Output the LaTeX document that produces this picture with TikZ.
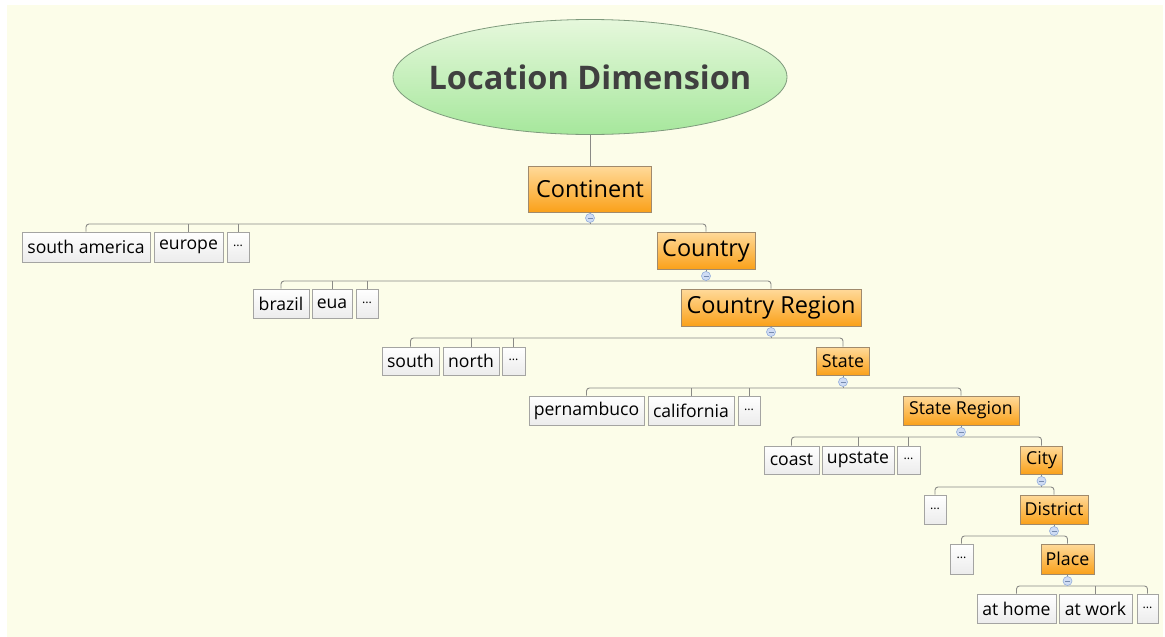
\documentclass[tikz,border=0pt]{standalone}
\usepackage{fontspec}
\setmainfont{Open Sans}
\usetikzlibrary{shapes.geometric}

\definecolor{bgcream}{HTML}{FCFDE9}
\definecolor{linegray}{HTML}{8A8A86}
\definecolor{orangetop}{HTML}{FFDA9A}
\definecolor{orangebot}{HTML}{FAA11A}
\definecolor{orangeedge}{HTML}{A08A6C}
\definecolor{leafedge}{HTML}{A4A4A2}
\definecolor{leafbot}{HTML}{ECECEC}
\definecolor{greentop}{HTML}{E6F8DC}
\definecolor{greenbot}{HTML}{A6E79C}
\definecolor{greenedge}{HTML}{7E9A7C}
\definecolor{titletext}{HTML}{404040}
\definecolor{knobfill}{HTML}{CFDCF4}
\definecolor{knobedge}{HTML}{93AEDC}

\newcommand{\fsz}[1]{\fontsize{#1}{#1}\selectfont}
\newcommand{\more}{\raisebox{0.12em}{\fsz{12.5}…}}

\tikzset{
  conn/.style={draw=linegray, line width=0.9pt},
  bar/.style={conn, rounded corners=3pt},
  level/.style={draw=orangeedge, line width=0.8pt, top color=orangetop,
    bottom color=orangebot, inner sep=0pt, text=black},
  leaf/.style={draw=leafedge, line width=0.8pt, top color=white,
    bottom color=leafbot, inner sep=0pt, text=black, font=\fsz{17.6},
    minimum height=29},
  knob/.style={circle, draw=knobedge, fill=knobfill, line width=0.6pt,
    minimum size=9, inner sep=0pt,
    path picture={\draw[knobedge!80!black, line width=0.7pt]
      ([xshift=2pt]path picture bounding box.west) --
      ([xshift=-2pt]path picture bounding box.east);}},
}

\begin{document}
\begin{tikzpicture}[x=1pt, y=-1pt]
  \useasboundingbox (0,0) rectangle (1165,637);
  \fill[bgcream] (7,5) rectangle (1163,637);

  % root: the ellipse is sized on its own, the title is set on top of it
  \node[ellipse, draw=greenedge, line width=0.8pt, top color=greentop,
    bottom color=greenbot, minimum width=394, minimum height=115,
    inner sep=0pt] (root) at (590,77) {};
  \node[text=titletext, font=\fsz{32.5}\bfseries, inner sep=0pt]
    (title) at (root.center) {Location Dimension};

  % hierarchy levels
  \node[level, minimum width=123, minimum height=46, font=\fsz{23.5}] (continent) at (590,189) {Continent};
  \node[level, minimum width=98, minimum height=37, font=\fsz{23.5}] (country) at (706,250.5) {Country};
  \node[level, minimum width=180, minimum height=37, font=\fsz{23.5}] (cregion) at (771,307.5) {Country Region};
  \node[level, minimum width=53, minimum height=28, font=\fsz{17.8}] (state) at (843,361) {State};
  \node[level, minimum width=116, minimum height=29, font=\fsz{17.8}] (sregion) at (961,410.5) {State Region};
  \node[level, minimum width=42, minimum height=28, font=\fsz{17.8}] (city) at (1041.5,460) {City};
  \node[level, minimum width=68, minimum height=29, font=\fsz{17.8}] (district) at (1054,509.5) {District};
  \node[level, minimum width=53, minimum height=30, font=\fsz{17.8}] (place) at (1067.5,559) {Place};

  % example values
  \node[leaf, minimum width=128, minimum height=30] (samerica) at (86,247) {south america};
  \node[leaf, minimum width=69, minimum height=30] (europe) at (188.5,247) {europe};
  \node[leaf, minimum width=22, minimum height=30] (contmore) at (238,247) {\more};

  \node[leaf, minimum width=56] (brazil) at (281,303.5) {brazil};
  \node[leaf, minimum width=40] (eua) at (332,303.5) {eua};
  \node[leaf, minimum width=22] (countmore) at (367,303.5) {\more};

  \node[leaf, minimum width=57, minimum height=28] (south) at (410.5,361) {south};
  \node[leaf, minimum width=56, minimum height=28] (north) at (471,361) {north};
  \node[leaf, minimum width=23, minimum height=28] (crmore) at (513.5,361) {\more};

  \node[leaf, minimum width=115] (pernambuco) at (586.5,410.5) {pernambuco};
  \node[leaf, minimum width=86] (california) at (691,410.5) {california};
  \node[leaf, minimum width=22] (statemore) at (749,410.5) {\more};

  \node[leaf, minimum width=55, minimum height=28] (coast) at (791.5,460) {coast};
  \node[leaf, minimum width=72, minimum height=28] (upstate) at (858,460) {upstate};
  \node[leaf, minimum width=23, minimum height=28] (srmore) at (908.5,460) {\more};

  \node[leaf, minimum width=22] (citymore) at (935,509.5) {\more};

  \node[leaf, minimum width=23, minimum height=30] (distmore) at (961.5,559) {\more};

  \node[leaf, minimum width=79] (athome) at (1016.5,608.5) {at home};
  \node[leaf, minimum width=73] (atwork) at (1095.5,608.5) {at work};
  \node[leaf, minimum width=21] (placemore) at (1147.5,608.5) {\more};

  % branch rails
  \coordinate (rail1) at (590,224);
  \coordinate (rail2) at (706,281);
  \coordinate (rail3) at (771,338);
  \coordinate (rail4) at (843,388);
  \coordinate (rail5) at (961,437);
  \coordinate (rail6) at (1041.5,487);
  \coordinate (rail7) at (1054,536);
  \coordinate (rail8) at (1067.5,586);

  \draw[conn] (root.south) -- (continent.north);

  \draw[bar] (samerica.north) |- (rail1) -| (country.north);
  \draw[conn] (europe.north) -- (europe.north |- rail1);
  \draw[conn] (contmore.north) -- (contmore.north |- rail1);
  \draw[conn] (continent.south) -- (rail1);

  \draw[bar] (brazil.north) |- (rail2) -| (cregion.north);
  \draw[conn] (eua.north) -- (eua.north |- rail2);
  \draw[conn] (countmore.north) -- (countmore.north |- rail2);
  \draw[conn] (country.south) -- (rail2);

  \draw[bar] (south.north) |- (rail3) -| (state.north);
  \draw[conn] (north.north) -- (north.north |- rail3);
  \draw[conn] (crmore.north) -- (crmore.north |- rail3);
  \draw[conn] (cregion.south) -- (rail3);

  \draw[bar] (pernambuco.north) |- (rail4) -| (sregion.north);
  \draw[conn] (california.north) -- (california.north |- rail4);
  \draw[conn] (statemore.north) -- (statemore.north |- rail4);
  \draw[conn] (state.south) -- (rail4);

  \draw[bar] (coast.north) |- (rail5) -| (city.north);
  \draw[conn] (upstate.north) -- (upstate.north |- rail5);
  \draw[conn] (srmore.north) -- (srmore.north |- rail5);
  \draw[conn] (sregion.south) -- (rail5);

  \draw[bar] (citymore.north) |- (rail6) -| (district.north);
  \draw[conn] (city.south) -- (rail6);

  \draw[bar] (distmore.north) |- (rail7) -| (place.north);
  \draw[conn] (district.south) -- (rail7);

  \draw[bar] (athome.north) |- (rail8) -| (placemore.north);
  \draw[conn] (atwork.north) -- (atwork.north |- rail8);
  \draw[conn] (place.south) -- (rail8);

  % collapse knobs under each level
  \node[knob] (k1) at (590,218) {};
  \node[knob] (k2) at (706,276) {};
  \node[knob] (k3) at (771,332) {};
  \node[knob] (k4) at (843,382) {};
  \node[knob] (k5) at (961,432) {};
  \node[knob] (k6) at (1041.5,481) {};
  \node[knob] (k7) at (1054,531) {};
  \node[knob] (k8) at (1067.5,581) {};
\end{tikzpicture}
\end{document}
